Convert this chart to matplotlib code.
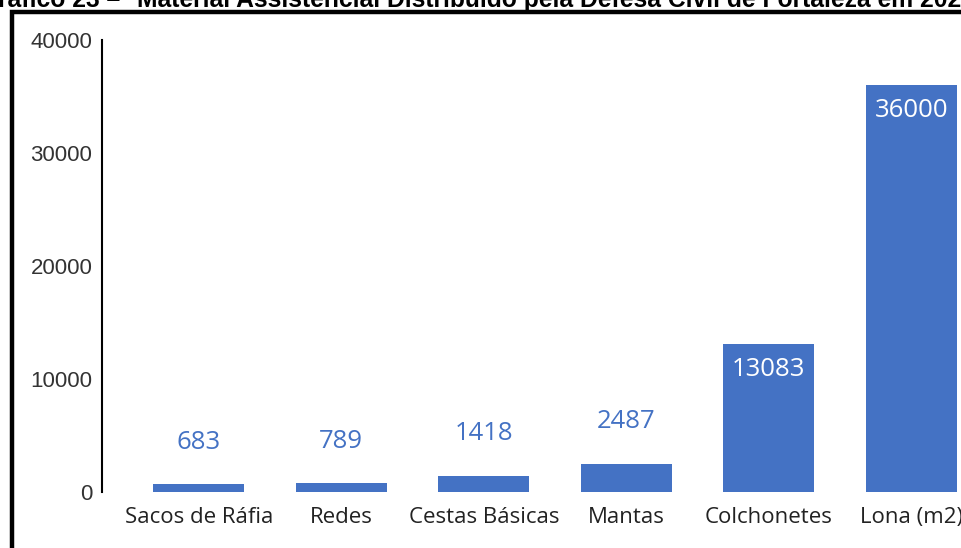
import matplotlib
matplotlib.use("Agg")
import matplotlib.pyplot as plt
from matplotlib.patches import Rectangle

categories = ["Sacos de Ráfia", "Redes", "Cestas Básicas", "Mantas", "Colchonetes", "Lona (m2)"]
values = [683, 789, 1418, 2487, 13083, 36000]
yticks = [0, 10000, 20000, 30000, 40000]
title_prefix = "Gráfico 23 –"
title_main = "Material Assistencial Distribuído pela Defesa Civil de Fortaleza em 2022"

W, H = 961, 548
fig = plt.figure(figsize=(W / 100, H / 100), dpi=100)
blue = "#4472C4"

# axes placement in pixel coords
x0_px, x1_px = 102, 961
y0_px, y1_px = 492, 40  # from top
ax = fig.add_axes([x0_px / W, 1 - y0_px / H, (x1_px - x0_px) / W, (y0_px - y1_px) / H])
ax.set_xlim(-0.68, 5.35)
ax.set_ylim(0, 40000)

x = list(range(len(categories)))
ax.bar(x, values, width=0.64, color=blue)

for xi, v in zip(x, values):
    if v > 10000:
        ax.annotate(f"{v}", (xi, v), xytext=(0, -25), textcoords="offset pixels",
                    ha="center", va="center", color="white", fontsize=18.5, family="Open Sans")
    else:
        ax.annotate(f"{v}", (xi, v), xytext=(0, 42), textcoords="offset pixels",
                    ha="center", va="center", color=blue, fontsize=18.5, family="Open Sans")

ax.set_yticks(yticks)
ax.set_yticklabels([str(t) for t in yticks], fontsize=16, family="Liberation Sans", color="#333333")
ax.set_xticks(x)
ax.set_xticklabels(categories, fontsize=16, family="Open Sans", color="#222222")
ax.tick_params(axis="y", length=0, pad=7)
ax.tick_params(axis="x", length=0, pad=11)
for s in ["top", "right", "bottom"]:
    ax.spines[s].set_visible(False)
ax.spines["left"].set_linewidth(1.5)
ax.spines["left"].set_color("black")

# black frame of the screenshot
fig.patches.append(Rectangle((12 / W, -0.5), 1.5, 1 - 11.5 / H + 0.5, transform=fig.transFigure,
                             fill=False, edgecolor="black", linewidth=3.2, zorder=10))

# clipped title at the very top (as in the reference screenshot)
fig.text(120 / W, 1 - 7 / H, title_prefix, ha="right", va="baseline", fontsize=17.7,
         fontweight="bold", family="Liberation Sans", color="black")
fig.text(137 / W, 1 - 7 / H, title_main, ha="left", va="baseline", fontsize=17.7,
         fontweight="bold", family="Liberation Sans", color="black")

fig.savefig("out.png", dpi=100)
